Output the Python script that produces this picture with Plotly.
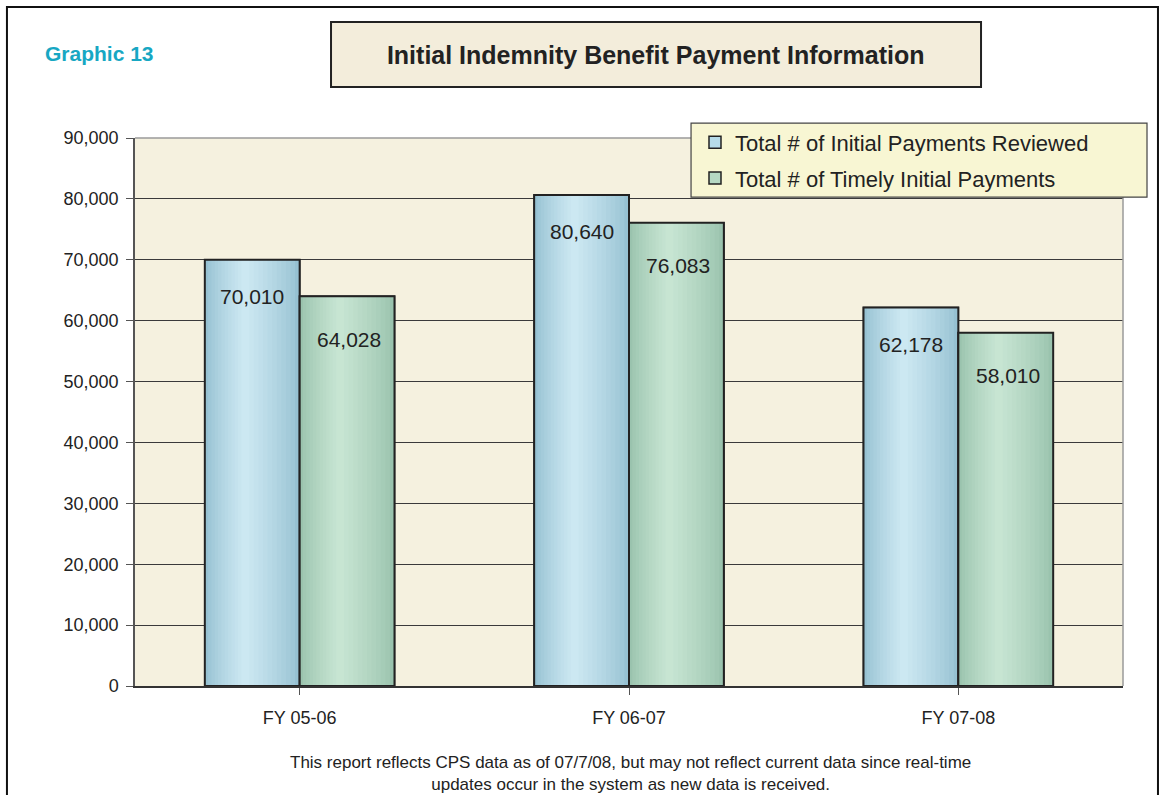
import plotly.graph_objects as go

categories = ["FY 05-06", "FY 06-07", "FY 07-08"]
reviewed = [70010, 80640, 62178]
timely = [64028, 76083, 58010]
series_names = ["Total # of Initial Payments Reviewed", "Total # of Timely Initial Payments"]
y_ticks = [0, 10000, 20000, 30000, 40000, 50000, 60000, 70000, 80000, 90000]

FONT = "Liberation Sans, Arial, sans-serif"
BAR_W = 0.288
N_LAYERS = 12
PEAK = 0.42

styles = [
    dict(values=reviewed, offset=-BAR_W, edge=(150, 193, 210), center=(208, 235, 244),
         legend="#b6dbe9", yshift=-37, xshift=0),
    dict(values=timely, offset=0.0, edge=(154, 195, 174), center=(202, 231, 213),
         legend="#b6d9c3", yshift=-43, xshift=2),
]


def mix(a, b, t):
    return "rgb(%d,%d,%d)" % tuple(round(a[i] + (b[i] - a[i]) * t) for i in range(3))


fig = go.Figure()
idx = list(range(len(categories)))

for s, name in zip(styles, series_names):
    # legend entry trace (covered by gradient layers)
    fig.add_trace(go.Bar(
        x=idx, y=s["values"], name=name, width=BAR_W, offset=s["offset"],
        marker=dict(color=s["legend"], line=dict(color="#222222", width=1.5)),
        hoverinfo="skip", legendgroup=name,
    ))
    # gradient layers
    for k in range(N_LAYERS):
        t = k / N_LAYERS
        left = s["offset"] + t * PEAK * BAR_W
        right = s["offset"] + BAR_W - t * (1 - PEAK) * BAR_W
        fig.add_trace(go.Bar(
            x=idx, y=s["values"], width=right - left, offset=left,
            marker=dict(color=mix(s["edge"], s["center"], t ** 0.8), line=dict(width=0)),
            showlegend=False, hoverinfo="skip",
        ))
    # outline
    fig.add_trace(go.Bar(
        x=idx, y=s["values"], width=BAR_W, offset=s["offset"],
        marker=dict(color="rgba(0,0,0,0)", line=dict(color="#222222", width=2)),
        showlegend=False, hoverinfo="skip",
    ))

annotations = []
for s in styles:
    for i, v in zip(idx, s["values"]):
        annotations.append(dict(
            x=i + s["offset"] + BAR_W / 2, y=v, xref="x", yref="y",
            text=f"{v:,}", showarrow=False, xshift=s["xshift"], yshift=s["yshift"],
            font=dict(family=FONT, size=21, color="#222222"),
        ))

annotations.append(dict(
    x=-0.0931, y=1.155, xref="paper", yref="paper", xanchor="left", yanchor="middle",
    text="<b>Graphic 13</b>", showarrow=False,
    font=dict(family=FONT, size=21, color="#17a7c3"),
))
annotations.append(dict(
    x=0.502, y=-0.1588, xref="paper", yref="paper", xanchor="center", yanchor="middle",
    text="This report reflects CPS data as of 07/7/08, but may not reflect current data since real-time"
         "<br>updates occur in the system as new data is received.",
    showarrow=False, font=dict(family=FONT, size=17, color="#222222"),
))

shapes = [
    # outer frame
    dict(type="rect", xref="paper", yref="paper", x0=-0.1296, x1=1.0354, y0=-0.25, y1=1.239,
         line=dict(color="#111111", width=2), fillcolor="rgba(0,0,0,0)", layer="below"),
    # title box
    dict(type="rect", xref="paper", yref="paper", x0=0.1984, x1=0.8563, y0=1.0931, y1=1.2117,
         line=dict(color="#222222", width=2), fillcolor="#f3eddb", layer="below"),
    # top/right plot border
    dict(type="path", xref="paper", yref="paper", path="M0,1 L1,1 L1,0",
         line=dict(color="#9a9a9a", width=1.5), layer="above"),
    # legend box
    dict(type="rect", xref="paper", yref="paper", x0=0.5628, x1=1.0243, y0=0.892, y1=1.027,
         line=dict(color="#444444", width=1.2), fillcolor="#f8f6d3", layer="above"),
]

fig.update_layout(
    width=1163, height=795,
    margin=dict(l=135, r=40, t=138, b=109),
    paper_bgcolor="white", plot_bgcolor="#f5f1df",
    barmode="overlay",
    font=dict(family=FONT, color="#222222"),
    title=dict(text="<b>Initial Indemnity Benefit Payment Information</b>",
               xref="paper", x=0.527, xanchor="center",
               yref="container", y=1 - 55 / 795, yanchor="middle",
               font=dict(family=FONT, size=25, color="#222222")),
    legend=dict(x=0.5668, y=1.03, xanchor="left", yanchor="top",
                bgcolor="rgba(0,0,0,0)", borderwidth=0,
                font=dict(family=FONT, size=22, color="#222222"),
                tracegroupgap=4, traceorder="grouped"),
    xaxis=dict(tickmode="array", tickvals=idx, ticktext=categories,
               range=[-0.5, 2.5], showgrid=False, zeroline=False,
               showline=True, linecolor="#333333", linewidth=2,
               ticks="outside", tickson="boundaries", ticklen=7, tickcolor="#555555",
               tickfont=dict(family=FONT, size=18, color="#222222"),
               ticklabelstandoff=7),
    yaxis=dict(range=[0, 90000], tickvals=y_ticks, tickformat=",",
               showgrid=True, gridcolor="#3a3a3a", gridwidth=1, zeroline=False,
               showline=True, linecolor="#555555", linewidth=1.5,
               ticks="outside", ticklen=7, tickcolor="#555555",
               tickfont=dict(family=FONT, size=18, color="#222222"),
               ticklabelstandoff=4),
    annotations=annotations,
    shapes=shapes,
)

fig.write_html("out.html", config={"displayModeBar": False},
               post_script="document.body.style.margin='0';")
